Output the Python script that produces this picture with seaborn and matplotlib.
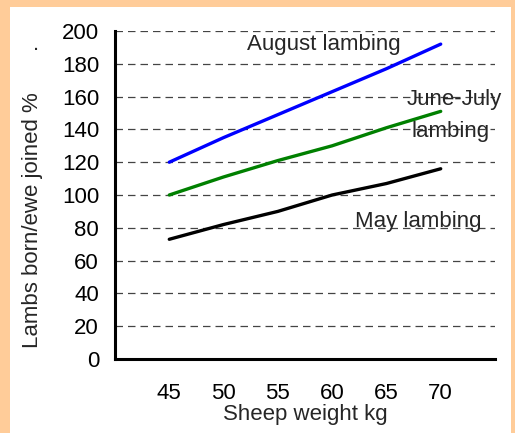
import matplotlib
matplotlib.use("Agg")
import matplotlib.pyplot as plt
import seaborn as sns
import pandas as pd
from matplotlib.patches import Rectangle

# values
weights = [45, 50, 55, 60, 65, 70]
august = [120, 135, 149, 163, 177, 192]
june_july = [100, 111, 121, 130, 141, 151]
may = [73, 82, 90, 100, 107, 116]

df = pd.DataFrame({
    "weight": weights * 3,
    "lambs": august + june_july + may,
    "season": ["August"] * 6 + ["June-July"] * 6 + ["May"] * 6,
})

sns.set_style("white")
plt.rcParams["font.family"] = ["Liberation Sans", "DejaVu Sans"]
fs = 16

fig = plt.figure(figsize=(5.15, 4.33), dpi=100, facecolor="#FFCC99")
fig.patches.append(Rectangle((10 / 515, 0), 501 / 515, 426 / 433,
                             transform=fig.transFigure, facecolor="white",
                             edgecolor="none", zorder=-5))
ax = fig.add_axes([115 / 515, 1 - 359 / 433, 380 / 515, 328 / 433])
ax.set_facecolor("none")

# dashed gridlines
for v in range(20, 201, 20):
    ax.axhline(v, color="#444444", lw=0.9, ls=(0, (6, 4)), zorder=1)

sns.lineplot(data=df, x="weight", y="lambs", hue="season", ax=ax,
             palette={"August": "#0000FF", "June-July": "#008000", "May": "#000000"},
             linewidth=2.4, legend=False, zorder=3)

ax.set_xlim(40, 75)
ax.set_ylim(0, 200)
ax.set_xticks([40, 45, 50, 55, 60, 65, 70, 75])
ax.set_xticklabels(["", "45", "50", "55", "60", "65", "70", ""])
ax.set_yticks(range(0, 201, 20))

for s in ["top", "right"]:
    ax.spines[s].set_visible(False)
for s in ["left", "bottom"]:
    ax.spines[s].set_linewidth(2.2)
    ax.spines[s].set_color("black")
ax.tick_params(axis="both", direction="out", length=6.5, width=2.0,
               color="black", labelsize=fs, labelcolor="black")
ax.tick_params(axis="y", pad=5)
ax.tick_params(axis="x", pad=11)

ax.set_xlabel("Sheep weight kg", fontsize=fs, labelpad=0)
ax.set_ylabel("Lambs born/ewe joined %", fontsize=fs)
ax.yaxis.set_label_coords(-0.19, 0.424)
fig.text(36 / 515, 1 - 45 / 433, ".", fontsize=fs, ha="center", va="center")

ax.text(52.2, 192, "August lambing", fontsize=fs, va="center", ha="left")
ax.text(66.9, 158, "June-July", fontsize=fs, va="center", ha="left")
ax.text(67.3, 139, "lambing", fontsize=fs, va="center", ha="left")
ax.text(62.1, 84, "May lambing", fontsize=fs, va="center", ha="left")

fig.savefig("out.png", dpi=100, facecolor=fig.get_facecolor())
